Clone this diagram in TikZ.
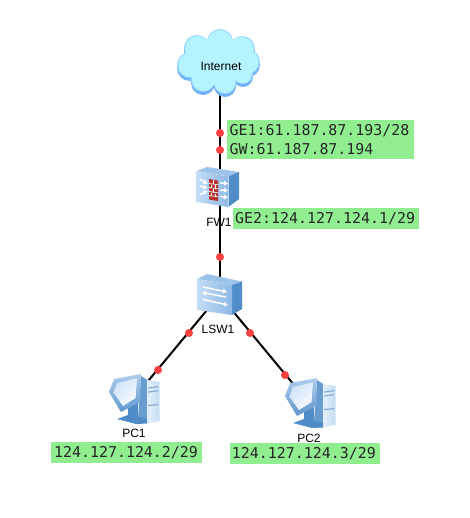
\documentclass[tikz,border=0pt]{standalone}
\usepackage{fontspec}
\setmainfont{Liberation Sans}
\newfontfamily\ipfont{DejaVu Sans Mono}
\usetikzlibrary{arrows.meta,shadings}
\definecolor{ipgreen}{HTML}{90EE90}
\definecolor{dotred}{HTML}{FF4040}
\definecolor{cloudfill}{HTML}{B4F4FF}
\definecolor{cloudedge}{HTML}{9AD6FF}
\definecolor{cloudshade}{HTML}{6FB2FA}
\definecolor{boxlight}{HTML}{C4DDF6}
\definecolor{boxmid}{HTML}{8DB8E4}
\definecolor{boxdark}{HTML}{4F8CC8}
\definecolor{boxtop}{HTML}{9CC3EA}
\definecolor{brick}{HTML}{B8342E}
\tikzset{
  link/.style={line width=1.5pt,black},
  portdot/.style={circle,fill=dotred,draw=none,inner sep=0pt,minimum size=6pt},
  iplabel/.style={fill=ipgreen,inner sep=0pt,anchor=north west,align=left,font=\ipfont\fontsize{11.2}{14.6}\selectfont,text=black!85},
  devlabel/.style={inner sep=0pt,font=\fontsize{9}{11}\selectfont,text=black},
  devanchor/.style={inner sep=0pt,minimum size=1pt,draw=none},
  arrowwhite/.style={white,line width=1.1pt,-{Latex[length=3pt,width=4.2pt]}}
}
\newcommand{\cloudblobs}[1]{%
  \foreach \cx/\cy/\cr in {197/48/13,220/42/13,242/49/13,248/62/12,190/65/13,203/80/12,225/83/11,243/74/10,219/63/23}{
    \fill[#1] (\cx,\cy) circle[radius=\cr];}}
\newcommand{\pcicon}[2]{%
  \begin{scope}[shift={(#1,#2)}]
    % tower side and front
    \fill[boxdark!85] (41,8) -- (49,13) -- (48,55) -- (38,51) -- cycle;
    \shade[left color=white!55!boxlight,right color=boxlight] (47,12) -- (59.5,14) -- (59.5,53) -- (47,55.5) -- cycle;
    \fill[boxdark!70] (48,19.5) -- (58,18) -- (58,19.2) -- (48,20.7) -- cycle;
    \fill[boxdark!70] (48,23.5) -- (58,22) -- (58,23.2) -- (48,24.7) -- cycle;
    \fill[boxdark!70] (48,37) -- (58,36) -- (58,37.2) -- (48,38.2) -- cycle;
    % stand
    \fill[boxdark] (28,38) -- (38,34) -- (38,49) -- (47,51) -- (47,55.5) -- (36,56) -- (17,51) -- (28,47) -- cycle;
    % monitor
    \shade[top color=boxmid!70,bottom color=boxdark!90] (14,11) -- (41,6) -- (40,34) -- (21,44) -- (9,24) -- cycle;
    \shade[upper left=boxlight,lower right=white,upper right=white!55!boxlight,lower left=white!65!boxlight] (17,15) -- (37,10.5) -- (35.5,30) -- (23,38) -- (13.5,24.5) -- cycle;
  \end{scope}}
\begin{document}
\begin{tikzpicture}[x=0.75pt,y=-0.75pt]
\useasboundingbox (0,0) rectangle (469,518);
% named anchors of the devices
\node[devanchor] (inet) at (219.5,66) {};
\node[devanchor] (fw) at (219.5,188) {};
\node[devanchor] (lsw) at (219.5,295) {};
\node[devanchor] (pca) at (134,398) {};
\node[devanchor] (pcb) at (309,403) {};
% connectors
\draw[link] (inet) -- (fw);
\draw[link] (fw) -- (lsw);
\draw[link] (lsw) -- (pca);
\draw[link] (lsw) -- (pcb);
% cloud
\begin{scope}[shift={(0,3)}]\cloudblobs{cloudshade}\end{scope}
\cloudblobs{cloudedge}
\begin{scope}[shift={(219,62)},scale=0.965,shift={(-219,-62)}]\cloudblobs{cloudfill}\end{scope}
\node[devlabel] (inetlabel) at (221,66.5) {Internet};
% labels
\node[iplabel,minimum width=140.25pt,minimum height=29.25pt,text width=140pt] (ge1) at (226.5,120) {\hspace*{2pt}GE1:61.187.87.193/28\\[-0.6pt]\hspace*{2pt}GW:61.187.87.194};
% firewall
\fill[boxtop] (196.5,171) -- (207,167) -- (239,172) -- (229,176.5) -- cycle;
\fill[boxdark] (228.5,176.5) -- (239,172) -- (239,199) -- (228.5,207) -- cycle;
\shade[left color=boxlight,right color=boxmid] (196,171) -- (228.5,176.5) -- (228.5,207) -- (196,202) -- cycle;
\fill[brick] (209,179) -- (218,180.5) -- (218,201) -- (209,199.5) -- cycle;
\foreach \yy in {183.5,187.5,191.5,195.5}{\draw[white,line width=0.5pt] (209,\yy) -- (218,\yy+1.3);}
\draw[white,line width=0.5pt] (213.5,180) -- (213.5,184) (211,184.5) -- (211,188) (215.5,185) -- (215.5,189) (213.5,189) -- (213.5,193) (211,192.5) -- (211,196) (215.5,193.5) -- (215.5,197);
\foreach \ya/\yb in {179/184,186/188,195/191}{\draw[arrowwhite] (199.5,\ya) -- (207.5,\yb);}
\foreach \ya/\yb in {183/183.5,190/190.5,196.5/197.5}{\draw[arrowwhite] (220,\ya) -- (228,\yb);}
\node[devlabel] (fwlabel) at (219,222.5) {FW1};
\node[iplabel,minimum width=139.5pt,minimum height=15.75pt,text width=139pt] (ge2) at (233,208) {\hspace*{1.2pt}GE2:124.127.124.1/29};
% switch
\fill[boxtop] (197,279) -- (207,274) -- (242,281.5) -- (232,285) -- cycle;
\fill[boxdark] (232,285) -- (242,281.5) -- (242,309) -- (232,315) -- cycle;
\shade[left color=boxlight,right color=boxmid] (197,279) -- (232,285) -- (232,315) -- (197,310) -- cycle;
\draw[arrowwhite] (203,287) -- (227,292);
\draw[arrowwhite] (226,297) -- (202,292.5);
\draw[arrowwhite] (203,299.5) -- (228,305);
\node[devlabel] (lswlabel) at (218,329.5) {LSW1};
% port dots
\node[portdot] (d1) at (220,133) {};
\node[portdot] (d2) at (220,150) {};
\node[portdot] (d3) at (220,257) {};
\node[portdot] (d4) at (189,333) {};
\node[portdot] (d5) at (250,333) {};
\node[portdot] (d6) at (158,370) {};
\node[portdot] (d7) at (285,375) {};
% PCs
\pcicon{100}{368}
\pcicon{276}{372}
\node[devlabel] (pc1label) at (134,433.5) {PC1};
\node[devlabel] (pc2label) at (309,438) {PC2};
\node[iplabel,minimum width=113.25pt,minimum height=15.75pt,text width=113pt] (ip1) at (51,442) {\hspace*{2pt}124.127.124.2/29};
\node[iplabel,minimum width=112.5pt,minimum height=15.75pt,text width=112pt] (ip2) at (230,443) {\hspace*{1pt}124.127.124.3/29};
\end{tikzpicture}
\end{document}
